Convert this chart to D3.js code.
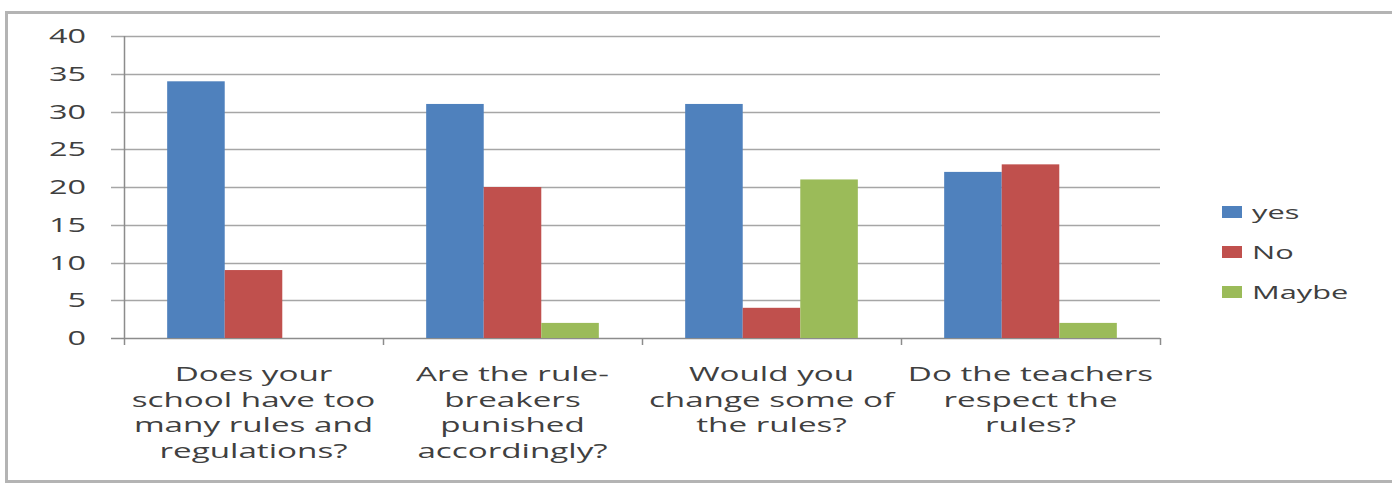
<!DOCTYPE html>
<html lang="en">
<head>
    <meta charset="UTF-8">
    <title>School rules survey</title>
    <script src="https://cdn.jsdelivr.net/npm/d3@7"></script>
    <style>
        body { margin: 0; background: white; }
        text { font-family: "Open Sans", sans-serif; fill: #404040; }
    </style>
</head>
<body>

<script>
    const width = 1392, height = 484;

    // data
    const categories = [
        ["Does your", "school have too", "many rules and", "regulations?"],
        ["Are the rule-", "breakers", "punished", "accordingly?"],
        ["Would you", "change some of", "the rules?"],
        ["Do the teachers", "respect the", "rules?"]
    ];
    const seriesNames = ["yes", "No", "Maybe"];
    const yesValues = [34, 31, 31, 22];
    const noValues = [9, 20, 4, 23];
    const maybeValues = [0, 2, 21, 2];
    const yTicks = [0, 5, 10, 15, 20, 25, 30, 35, 40];
    const colors = ["#4f81bd", "#c0504d", "#9bbb59"];

    const seriesValues = [yesValues, noValues, maybeValues];
    const sx = 1.62; // text in the picture is stretched sideways

    const margin = {left: 124, right: 232, top: 36, bottom: 146};

    const svg = d3.select("body")
                  .append("svg")
                  .attr("width", width)
                  .attr("height", height);

    // chart frame
    svg.append("rect")
       .attr("x", 6.5).attr("y", 12.5)
       .attr("width", width + 20).attr("height", 469)
       .attr("fill", "none")
       .attr("stroke", "#b4b4b4")
       .attr("stroke-width", 3);

    const x = d3.scaleBand()
                .domain(d3.range(categories.length))
                .range([margin.left, width - margin.right]);

    const xInner = d3.scaleBand()
                     .domain(d3.range(seriesNames.length))
                     .range([0, x.bandwidth()])
                     .paddingOuter(0.75);

    const y = d3.scaleLinear()
                .domain([0, 40])
                .range([height - margin.bottom, margin.top]);

    // gridlines + y ticks
    svg.selectAll("line.grid")
       .data(yTicks)
       .join("line").attr("class", "grid")
       .attr("x1", margin.left - 13).attr("x2", width - margin.right)
       .attr("y1", d => Math.round(y(d)) + 0.5).attr("y2", d => Math.round(y(d)) + 0.5)
       .attr("stroke", d => d === 0 ? "#8c8c8c" : "#a6a6a6")
       .attr("stroke-width", 1.5);

    svg.selectAll("g.ylab")
       .data(yTicks)
       .join("g").attr("class", "ylab")
       .attr("transform", d => `translate(86,${y(d) + 7}) scale(${sx},1)`)
       .append("text")
       .attr("text-anchor", "end")
       .style("font-size", "20px")
       .text(d => d);

    // y axis line
    svg.append("line")
       .attr("x1", margin.left + 0.5).attr("x2", margin.left + 0.5)
       .attr("y1", y(40)).attr("y2", y(0) + 1)
       .attr("stroke", "#8c8c8c").attr("stroke-width", 1.5);

    // category tick marks
    const catTicks = d3.range(categories.length + 1).map(i => margin.left + i * x.step());
    svg.selectAll("line.ctick")
       .data(catTicks)
       .join("line").attr("class", "ctick")
       .attr("x1", d => d + 0.5).attr("x2", d => d + 0.5)
       .attr("y1", y(0)).attr("y2", y(0) + 7)
       .attr("stroke", "#8c8c8c").attr("stroke-width", 1.5);

    // bars
    const groups = svg.selectAll("g.cat")
       .data(categories.map((c, i) => i))
       .join("g").attr("class", "cat")
       .attr("transform", i => `translate(${x(i)},0)`);

    groups.selectAll("rect")
       .data(i => seriesValues.map((vals, s) => ({s, v: vals[i]})))
       .join("rect")
       .attr("x", d => xInner(d.s))
       .attr("width", xInner.bandwidth())
       .attr("y", d => y(d.v))
       .attr("height", d => y(0) - y(d.v))
       .attr("fill", d => colors[d.s]);

    // category labels
    const labels = svg.selectAll("g.clab")
       .data(categories)
       .join("g").attr("class", "clab")
       .attr("transform", (d, i) => `translate(${x(i) + x.bandwidth() / 2},381) scale(${sx},1)`)
       .append("text")
       .attr("text-anchor", "middle")
       .style("font-size", "20.5px");

    labels.selectAll("tspan")
       .data(d => d)
       .join("tspan")
       .attr("x", 0)
       .attr("y", (d, i) => i * 25.7)
       .text(d => d);

    // legend
    const legend = svg.selectAll("g.legend")
       .data(seriesNames)
       .join("g").attr("class", "legend")
       .attr("transform", (d, i) => `translate(1222,${212 + i * 40})`);

    legend.append("rect")
       .attr("x", 0).attr("y", -6)
       .attr("width", 20).attr("height", 12)
       .attr("fill", (d, i) => colors[i]);

    legend.append("g")
       .attr("transform", `translate(30,7) scale(${sx},1)`)
       .append("text")
       .style("font-size", "19px")
       .text(d => d);
</script>

</body>
</html>
